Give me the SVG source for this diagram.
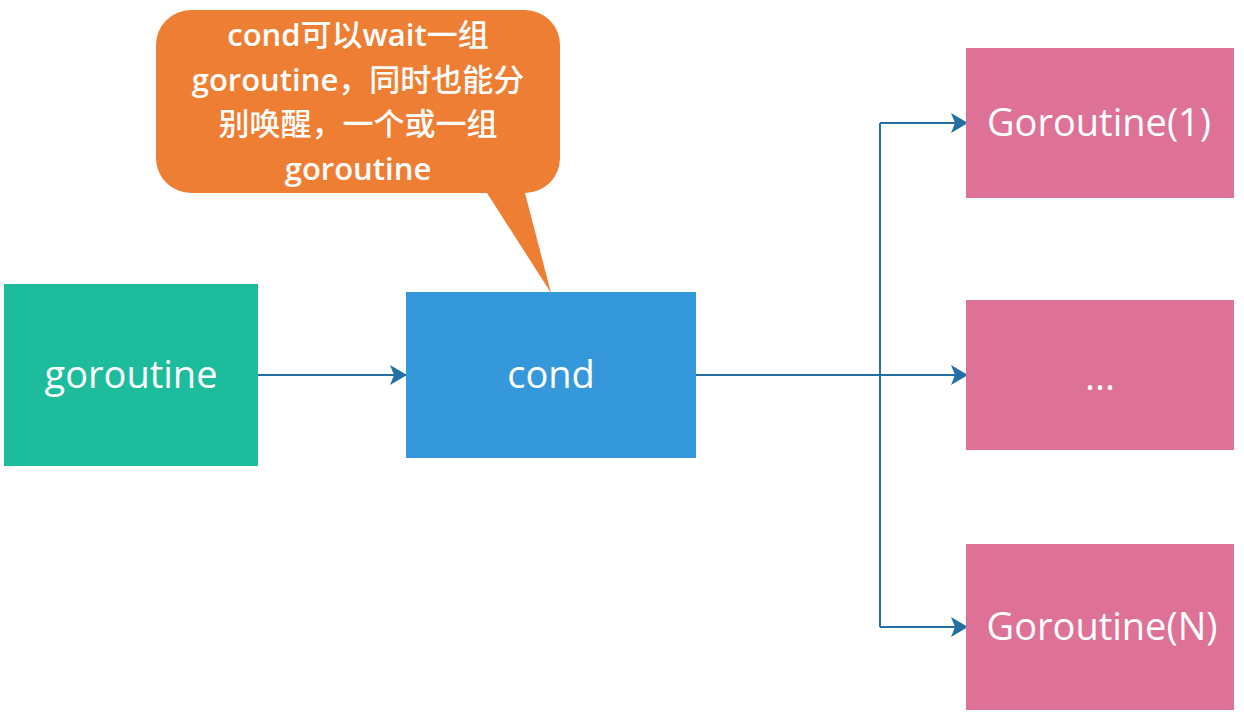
<svg xmlns="http://www.w3.org/2000/svg" width="1244" height="712" viewBox="0 0 1244 712">
<style>
.t{font-family:"Open Sans","Noto Sans CJK SC",sans-serif;fill:#fff;text-anchor:middle}
.big{font-size:38px}
.call{font-size:31px;font-weight:600}
.cjk{font-weight:500}
.conn{fill:none;stroke:#2470A3;stroke-width:2}
</style>
<defs>
<marker id="arr" markerUnits="userSpaceOnUse" markerWidth="18" markerHeight="20" refX="17" refY="10" orient="auto">
<path d="M0,0 L17,10 L0,20 L4,10 Z" fill="#2470A3"/>
</marker>
</defs>
<rect width="1244" height="712" fill="#fff"/>
<g id="callout">
<path d="M191,10 H525 A35,35 0 0 1 560,45 V158 A35,35 0 0 1 525,193 L551,293 L487,193 H191 A35,35 0 0 1 156,158 V45 A35,35 0 0 1 191,10 Z" fill="#EE7E33"/>
<text class="t call" x="358" y="46">cond<tspan class="cjk">可以</tspan>wait<tspan class="cjk">一组</tspan></text>
<text class="t call" x="358" y="91">goroutine<tspan class="cjk">，同时也能分</tspan></text>
<text class="t call cjk" x="358" y="135">别唤醒，一个或一组</text>
<text class="t call" x="358" y="180">goroutine</text>
</g>
<g id="connectors">
<path class="conn" d="M258,375 H407" marker-end="url(#arr)"/>
<path class="conn" d="M696,375 H880"/>
<path class="conn" d="M880,123 V627"/>
<path class="conn" d="M880,123 H968" marker-end="url(#arr)"/>
<path class="conn" d="M880,375 H968" marker-end="url(#arr)"/>
<path class="conn" d="M880,627 H968" marker-end="url(#arr)"/>
</g>
<g id="goroutine">
<rect x="4" y="284" width="254" height="182" fill="#1CBC9C"/>
<text class="t big" x="131" y="388">goroutine</text>
</g>
<g id="cond">
<rect x="406" y="292" width="290" height="166" fill="#3598DB"/>
<text class="t big" x="551" y="388">cond</text>
</g>
<g id="g1">
<rect x="966" y="48" width="268" height="150" fill="#DE7196"/>
<text class="t big" x="1099" y="136">Goroutine(1)</text>
</g>
<g id="gdots">
<rect x="966" y="300" width="268" height="150" fill="#DE7196"/>
<text class="t big" x="1100" y="390">...</text>
</g>
<g id="gN">
<rect x="966" y="544" width="268" height="166" fill="#DE7196"/>
<text class="t big" x="1102" y="640">Goroutine(N)</text>
</g>
</svg>
